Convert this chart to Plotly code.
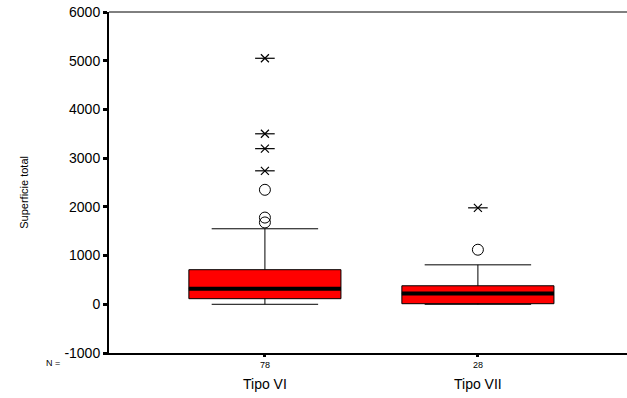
import plotly.graph_objects as go

# ---- data ----
categories = ["Tipo VI", "Tipo VII"]
counts = [78, 28]
q1 = [115, 12]
medians = [320, 220]
q3 = [710, 380]
lower_whisker = [0, 0]
upper_whisker = [1550, 810]
# outliers: circles (mild) and stars (extreme)
mild_outliers = [[2350, 1780, 1680], [1120]]
extreme_outliers = [[5050, 3500, 3195, 2740], [1980]]

y_ticks = [-1000, 0, 1000, 2000, 3000, 4000, 5000, 6000]
y_title = "Superficie total"

BOX_WIDTH = 0.714
FONT = "Liberation Sans, Arial, sans-serif"

fig = go.Figure()

for i, cat in enumerate(categories):
    fig.add_trace(go.Box(
        x=[i], q1=[q1[i]], median=[medians[i]], q3=[q3[i]],
        lowerfence=[lower_whisker[i]], upperfence=[upper_whisker[i]],
        width=BOX_WIDTH, whiskerwidth=0.7,
        fillcolor="#FF0000", line=dict(color="black", width=1),
        boxpoints=False, hoverinfo="skip", showlegend=False, name=cat,
    ))
    # thick median line
    fig.add_trace(go.Scatter(
        x=[i - BOX_WIDTH / 2, i + BOX_WIDTH / 2], y=[medians[i], medians[i]],
        mode="lines", line=dict(color="black", width=4),
        hoverinfo="skip", showlegend=False,
    ))
    # mild outliers
    fig.add_trace(go.Scatter(
        x=[i] * len(mild_outliers[i]), y=mild_outliers[i], mode="markers",
        marker=dict(symbol="circle-open", size=11, color="black", line=dict(width=1)),
        hoverinfo="skip", showlegend=False,
    ))
    # extreme outliers (star = X + horizontal line)
    for sym, sz in [("x-thin-open", 8), ("line-ew-open", 14)]:
        fig.add_trace(go.Scatter(
            x=[i] * len(extreme_outliers[i]), y=extreme_outliers[i], mode="markers",
            marker=dict(symbol=sym, size=sz, color="black",
                        line=dict(width=1.2, color="black")),
            hoverinfo="skip", showlegend=False,
        ))

# category labels below the N tick labels
for i, cat in enumerate(categories):
    fig.add_annotation(x=i, y=-0.063, xref="x", yref="paper", text=cat,
                       showarrow=False, yanchor="top",
                       font=dict(family=FONT, size=14, color="black"))
fig.add_annotation(x=-0.125, y=-0.03, xref="paper", yref="paper", text="N =",
                   showarrow=False, yanchor="middle",
                   font=dict(family=FONT, size=9, color="black"))
# y axis title
fig.add_annotation(x=-0.164, y=0.47, xref="paper", yref="paper", text=y_title,
                   showarrow=False, textangle=-90, xanchor="center", yanchor="middle",
                   font=dict(family=FONT, size=11, color="black"))

# thin frame line along the top of the plot area
fig.add_shape(type="line", xref="paper", yref="paper", x0=0, x1=1, y0=1, y1=1,
              line=dict(color="black", width=1))

fig.update_layout(
    width=627, height=398,
    margin=dict(l=109, r=0, t=12, b=45, autoexpand=False),
    paper_bgcolor="white", plot_bgcolor="white",
    boxmode="overlay",
    font=dict(family=FONT, color="black"),
    xaxis=dict(
        range=[-0.732, 1.70], tickvals=list(range(len(categories))),
        ticktext=[str(n) for n in counts],
        tickfont=dict(size=9, family=FONT), ticks="outside", ticklen=2,
        tickwidth=3, tickcolor="black",
        showline=True, linecolor="black", linewidth=2,
        showgrid=False, zeroline=False, automargin=False,
    ),
    yaxis=dict(
        range=[-1000, 6000], tickvals=y_ticks, ticktext=[str(t) for t in y_ticks],
        tickfont=dict(size=14, family=FONT), ticks="outside", ticklen=4,
        tickwidth=3, tickcolor="black", ticklabeloverflow="allow",
        showline=True, linecolor="black", linewidth=2,
        showgrid=False, zeroline=False, automargin=False,
    ),
)

fig.write_html(
    "out.html",
    config={"displayModeBar": False},
    post_script="document.body.style.margin='0';document.body.style.overflow='hidden';",
)
